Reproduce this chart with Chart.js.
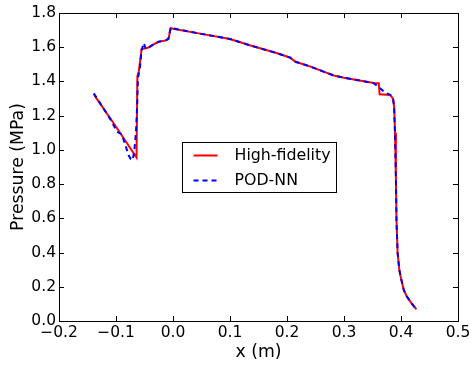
<!DOCTYPE html>
<html>
<head>
<meta charset="utf-8">
<script src="https://cdn.jsdelivr.net/npm/chart.js@4.4.1/dist/chart.umd.min.js"></script>
<style>
  html, body { margin: 0; padding: 0; background: #fff; }
  #wrap { width: 471px; height: 370px; position: relative; }
</style>
</head>
<body>
<div id="wrap"><canvas id="c" width="471" height="370"></canvas></div>
<script>
// ---- Data ----
const seriesNames = ["High-fidelity", "POD-NN"];

const hfX = [-0.139, -0.133, -0.100, -0.064, -0.0625, -0.060, -0.055, -0.050, -0.043, -0.035, -0.025, -0.012, -0.008, -0.004, 0.000, 0.050, 0.100, 0.136, 0.180, 0.205, 0.215, 0.240, 0.282, 0.300, 0.320, 0.355, 0.361, 0.3625, 0.381, 0.386, 0.388, 0.3895, 0.391, 0.392, 0.394, 0.397, 0.400, 0.405, 0.410, 0.417, 0.427];
const hfP = [1.327, 1.295, 1.135, 0.955, 1.430, 1.460, 1.590, 1.592, 1.598, 1.615, 1.632, 1.640, 1.648, 1.712, 1.708, 1.678, 1.648, 1.610, 1.568, 1.540, 1.515, 1.488, 1.435, 1.422, 1.410, 1.390, 1.390, 1.325, 1.321, 1.300, 1.250, 1.100, 0.850, 0.600, 0.400, 0.300, 0.250, 0.180, 0.145, 0.110, 0.068];

const podX = [-0.139, -0.133, -0.110, -0.098, -0.0895, -0.078, -0.074, -0.071, -0.068, -0.065, -0.063, -0.0615, -0.058, -0.055, -0.051, -0.048, -0.043, -0.035, -0.025, -0.012, -0.008, -0.004, 0.000, 0.050, 0.100, 0.136, 0.180, 0.205, 0.215, 0.240, 0.282, 0.300, 0.320, 0.352, 0.362, 0.372, 0.381, 0.386, 0.388, 0.3895, 0.391, 0.392, 0.394, 0.397, 0.400, 0.405, 0.410, 0.417, 0.427];
const podP = [1.330, 1.300, 1.180, 1.106, 1.090, 0.970, 0.945, 0.940, 0.990, 1.100, 1.250, 1.420, 1.480, 1.585, 1.625, 1.590, 1.597, 1.615, 1.632, 1.642, 1.650, 1.715, 1.710, 1.678, 1.648, 1.610, 1.568, 1.540, 1.515, 1.488, 1.435, 1.422, 1.410, 1.390, 1.365, 1.335, 1.322, 1.300, 1.250, 1.100, 0.850, 0.600, 0.400, 0.300, 0.250, 0.180, 0.145, 0.110, 0.068];

const xTicks = [-0.2, -0.1, 0.0, 0.1, 0.2, 0.3, 0.4, 0.5];
const yTicks = [0.0, 0.2, 0.4, 0.6, 0.8, 1.0, 1.2, 1.4, 1.6, 1.8];
const xTitle = "x (m)";
const yTitle = "Pressure (MPa)";

// ---- Chart ----
const FONT = "'DejaVu Sans', sans-serif";
const toPts = (xs, ys) => xs.map((x, i) => ({ x: x, y: ys[i] }));
const fmt = v => { const s = Number(v).toFixed(1); return s.replace('-', '\u2212'); };

const framePlugin = {
  id: 'frame',
  afterDraw(chart) {
    const { ctx, chartArea: a, scales } = chart;
    ctx.save();
    ctx.strokeStyle = '#000';
    ctx.lineWidth = 1;
    const L = 5;
    ctx.beginPath();
    xTicks.forEach(v => {
      const px = Math.round(scales.x.getPixelForValue(v)) + 0.5;
      ctx.moveTo(px, a.bottom); ctx.lineTo(px, a.bottom - L);
      ctx.moveTo(px, a.top); ctx.lineTo(px, a.top + L);
    });
    yTicks.forEach(v => {
      const py = Math.round(scales.y.getPixelForValue(v)) + 0.5;
      ctx.moveTo(a.left, py); ctx.lineTo(a.left + L, py);
      ctx.moveTo(a.right, py); ctx.lineTo(a.right - L, py);
    });
    ctx.stroke();
    ctx.strokeRect(Math.round(a.left) + 0.5, Math.round(a.top) + 0.5, Math.round(a.right - a.left), Math.round(a.bottom - a.top));

    // legend box, centered in the plot area
    const cx = (a.left + a.right) / 2, cy = (a.top + a.bottom) / 2;
    const w = 154, h = 50;
    const bx = Math.round(cx - w / 2) + 0.5, by = Math.round(cy - h / 2) + 0.5;
    ctx.fillStyle = '#fff';
    ctx.fillRect(bx, by, w, h);
    ctx.strokeRect(bx, by, w, h);
    const rows = [cy - 12.5, cy + 12.5];
    chart.data.datasets.slice().sort((p, q) => p.legendIndex - q.legendIndex).forEach((ds, i) => {
      const y = Math.round(rows[i]) + 0.5;
      ctx.strokeStyle = ds.borderColor;
      ctx.lineWidth = 2;
      ctx.setLineDash(ds.borderDash || []);
      ctx.beginPath();
      ctx.moveTo(bx + 11, y); ctx.lineTo(bx + 35, y);
      ctx.stroke();
      ctx.setLineDash([]);
      ctx.fillStyle = '#000';
      ctx.font = '15.8px ' + FONT;
      ctx.textBaseline = 'middle';
      ctx.textAlign = 'left';
      ctx.fillText(ds.label, bx + 52, y);
    });
    ctx.restore();
  }
};

new Chart(document.getElementById('c'), {
  type: 'scatter',
  data: {
    datasets: [
      { label: seriesNames[0], legendIndex: 0, data: toPts(hfX, hfP), showLine: true, borderColor: '#ff0000', borderWidth: 2, pointRadius: 0, tension: 0, order: 1, fill: false },
      { label: seriesNames[1], legendIndex: 1, data: toPts(podX, podP), showLine: true, borderColor: '#0000ff', borderWidth: 2, borderDash: [5, 4], pointRadius: 0, tension: 0, order: 0, fill: false }
    ]
  },
  options: {
    responsive: false,
    animation: false,
    devicePixelRatio: 1,
    layout: { padding: { left: 0, right: 13, top: 13, bottom: 0 } },
    plugins: { legend: { display: false }, tooltip: { enabled: false } },
    scales: {
      x: {
        type: 'linear', min: -0.2, max: 0.5,
        afterBuildTicks: s => { s.ticks = xTicks.map(v => ({ value: v })); },
        afterFit: s => { s.height = 49; s.paddingLeft = 0; s.paddingRight = 0; },
        grid: { display: false, drawTicks: false },
        border: { display: false },
        ticks: { color: '#000', font: { family: FONT, size: 15.5 }, padding: 3, maxRotation: 0, callback: v => fmt(v) },
        title: { display: true, text: xTitle, color: '#000', font: { family: FONT, size: 17.3 }, padding: { top: 0, bottom: 7 } }
      },
      y: {
        type: 'linear', min: 0, max: 1.8,
        afterBuildTicks: s => { s.ticks = yTicks.map(v => ({ value: v })); },
        afterFit: s => { s.width = 59; },
        grid: { display: false, drawTicks: false },
        border: { display: false },
        ticks: { color: '#000', font: { family: FONT, size: 15.5 }, padding: 3, callback: v => fmt(v) },
        title: { display: true, text: yTitle, color: '#000', font: { family: FONT, size: 17.3 }, padding: { top: 8, bottom: 0 } }
      }
    }
  },
  plugins: [framePlugin]
});
</script>
</body>
</html>
